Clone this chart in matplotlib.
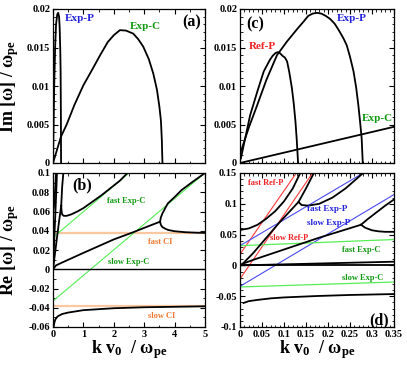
import matplotlib
matplotlib.use('Agg')
import matplotlib.pyplot as plt
from matplotlib.ticker import MultipleLocator, FixedLocator, FixedFormatter

plt.rcParams['font.family'] = ['Liberation Serif', 'DejaVu Serif']
plt.rcParams['font.weight'] = 'bold'
plt.rcParams['mathtext.fontset'] = 'custom'
plt.rcParams['mathtext.rm'] = 'Liberation Serif:bold'
plt.rcParams['mathtext.it'] = 'Liberation Serif:bold'
plt.rcParams['mathtext.bf'] = 'Liberation Serif:bold'

# ---- panel (a): growth rate, wide k range
a_expp_x = [0, 0.02, 0.04, 0.07, 0.1, 0.14, 0.17, 0.2, 0.22, 0.24, 0.25, 0.26, 0.265]
a_expp_y = [0, 0.005, 0.01, 0.015, 0.018, 0.0193, 0.0195, 0.019, 0.0175, 0.0145, 0.012, 0.006, 0]
a_expc_x = [0, 0.1, 0.26, 0.45, 0.7, 1.0, 1.3, 1.55, 1.8, 2.0, 2.2, 2.4, 2.64, 2.8, 2.97,
            3.15, 3.3, 3.42, 3.5, 3.55, 3.58, 3.6]
a_expc_y = [0, 0.0013, 0.0034, 0.005, 0.0075, 0.0101, 0.0122, 0.014, 0.0157, 0.0166, 0.01725,
            0.0172, 0.0168, 0.0161, 0.0151, 0.0135, 0.0116, 0.0095, 0.0073, 0.0055, 0.003, 0]

# ---- panel (b): real frequency, wide k range
b_fastexpc_x = [0, 2.5]
b_fastexpc_y = [0.033, 0.1]
b_slowexpc_x = [0, 5]
b_slowexpc_y = [-0.033, 0.1]
b_ci_x = [0, 5]
b_fastci_y = [0.038, 0.038]
b_slowci_y = [-0.038, -0.038]
b_zero_x = [0, 5]
b_zero_y = [0, 0]
b_upper_x = [0.27, 0.28, 0.3, 0.35, 0.45, 0.6, 0.8, 1.0, 1.2, 1.4, 1.6, 1.8, 2.0, 2.2, 2.45]
b_upper_y = [0.066, 0.061, 0.057, 0.0555, 0.0555, 0.057, 0.06, 0.0635, 0.068, 0.0725, 0.077,
             0.082, 0.087, 0.092, 0.1]
b_cuspup_x = [0.27, 0.3, 0.34]
b_cuspup_y = [0.066, 0.085, 0.1]
b_origin_x = [0, 0.1, 0.2, 0.27]
b_origin_y = [0, 0.025, 0.05, 0.066]
b_steep1_x = [0, 0.04, 0.07, 0.1]
b_steep1_y = [0.058, 0.067, 0.083, 0.1]
b_steep2_x = [0.01, 0.06, 0.1, 0.13]
b_steep2_y = [0.005, 0.045, 0.075, 0.1]
b_slow_x = [0, 0.1, 0.3, 1.0, 2.0, 2.6, 3.0, 3.52]
b_slow_y = [0, 0.004, 0.007, 0.017, 0.031, 0.038, 0.043, 0.0494]
b_slowup_x = [3.52, 3.55, 3.6, 3.7, 3.78, 4.0, 4.23, 4.6, 5.0]
b_slowup_y = [0.0494, 0.054, 0.058, 0.064, 0.0685, 0.075, 0.0823, 0.091, 0.1]
b_slowdn_x = [3.52, 3.55, 3.6, 3.7, 3.79, 4.0, 4.34, 4.7, 5.0]
b_slowdn_y = [0.0494, 0.046, 0.0438, 0.042, 0.0408, 0.0395, 0.0385, 0.038, 0.0378]
b_bottom_x = [0.02, 0.04, 0.08, 0.15, 0.3, 0.5, 1.0, 2.0, 3.0, 4.0, 5.0]
b_bottom_y = [-0.06, -0.056, -0.052, -0.049, -0.0465, -0.045, -0.0425, -0.0405, -0.0395,
              -0.039, -0.0385]

# ---- panel (c): growth rate, small k
c_expp_x = [0.002, 0.02, 0.039, 0.06, 0.084, 0.107, 0.13, 0.145, 0.155, 0.165, 0.175, 0.185,
            0.195, 0.205, 0.215, 0.225, 0.235, 0.2425, 0.25, 0.258, 0.264, 0.269, 0.273,
            0.2765, 0.279]
c_expp_y = [0.0015, 0.0046, 0.0075, 0.0108, 0.014, 0.0158, 0.0174, 0.0184, 0.0191, 0.0194,
            0.0195, 0.0194, 0.0191, 0.0187, 0.0181, 0.0172, 0.0162, 0.0153, 0.0138, 0.0119,
            0.0098, 0.0075, 0.0053, 0.0032, 0]
c_refp_x = [0.002, 0.023, 0.04, 0.054, 0.068, 0.074, 0.08, 0.0856, 0.091, 0.097, 0.102,
            0.107, 0.112, 0.118, 0.122, 0.126, 0.129, 0.132]
c_refp_y = [0.0006, 0.0062, 0.0094, 0.0119, 0.0134, 0.0139, 0.01425, 0.0144, 0.01425,
            0.0139, 0.0137, 0.0132, 0.0118, 0.0097, 0.0078, 0.0054, 0.003, 0]
c_expc_x = [0, 0.35]
c_expc_y = [0, 0.0047]

# ---- panel (d): real frequency, small k
d_zero_x = [0, 0.35]
d_zero_y = [0, 0]
d_flat_x = [0, 0.35]
d_flat_y = [0, 0.006]
d_bottom_x = [0.008, 0.02, 0.04, 0.07, 0.1, 0.175, 0.25, 0.35]
d_bottom_y = [-0.061, -0.058, -0.056, -0.0535, -0.052, -0.0497, -0.048, -0.0465]
d_upleft_x = [0, 0.02, 0.04, 0.06, 0.08, 0.1, 0.12, 0.137]
d_upleft_y = [0.0575, 0.06, 0.066, 0.076, 0.088, 0.104, 0.125, 0.15]
d_mid_x = [0.008, 0.03, 0.06, 0.09, 0.12, 0.133, 0.15, 0.168]
d_mid_y = [0.004, 0.02, 0.045, 0.07, 0.093, 0.103, 0.125, 0.15]
d_mid2_x = [0.133, 0.14, 0.155, 0.18, 0.21, 0.24, 0.28]
d_mid2_y = [0.103, 0.098, 0.097, 0.1, 0.11, 0.125, 0.15]
d_slow_x = [0, 0.03, 0.08, 0.13, 0.18, 0.23, 0.275]
d_slow_y = [0.001, 0.009, 0.021, 0.033, 0.045, 0.056, 0.066]
d_slowup_x = [0.275, 0.29, 0.31, 0.33, 0.35]
d_slowup_y = [0.066, 0.075, 0.086, 0.097, 0.107]
d_slowdn_x = [0.275, 0.285, 0.3, 0.315, 0.33, 0.35]
d_slowdn_y = [0.066, 0.061, 0.057, 0.0553, 0.0545, 0.0545]
d_fastexpc_x = [0, 0.35]
d_fastexpc_y = [0.032, 0.042]
d_slowexpc_x = [0, 0.35]
d_slowexpc_y = [-0.035, -0.027]
d_fastexpp_x = [0, 0.28]
d_fastexpp_y = [0.032, 0.15]
d_slowexpp_x = [0, 0.35]
d_slowexpp_y = [-0.034, 0.115]
d_fastrefp_x = [0, 0.128]
d_fastrefp_y = [0.018, 0.15]
d_slowrefp_x = [0, 0.165]
d_slowrefp_y = [-0.022, 0.15]

# tick labels
im_ticks = [0, 0.005, 0.01, 0.015, 0.02]
im_labels = ['0', '0.005', '0.01', '0.015', '0.02']
b_yticks = [-0.06, -0.04, -0.02, 0, 0.02, 0.04, 0.06, 0.08, 0.1]
b_ylabels = ['-0.06', '-0.04', '-0.02', '0', '0.02', '0.04', '0.06', '0.08', '0.1']
b_xticks = [0, 1, 2, 3, 4, 5]
b_xlabels = ['0', '1', '2', '3', '4', '5']
d_yticks = [-0.1, -0.05, 0, 0.05, 0.1, 0.15]
d_ylabels = ['-0.1', '-0.05', '0', '0.05', '0.1', '0.15']
d_xticks = [0, 0.05, 0.1, 0.15, 0.2, 0.25, 0.3, 0.35]
d_xlabels = ['0', '0.05', '0.1', '0.15', '0.2', '0.25', '0.3', '0.35']

BLUE = '#2222dd'
GREEN = '#119911'
RED = '#ee2222'
ORANGE = '#f07830'
LGREEN = '#55ee55'
LBLUE = '#4a4aee'
LRED = '#ff3a3a'
LORANGE = '#f9c8a0'
LW = 1.3
TFS = 7.5

fig = plt.figure(figsize=(4.07, 3.67), dpi=100)
W, H = 407.0, 367.0
def box(x0, x1, ytop, ybot):
    return [x0 / W, 1 - ybot / H, (x1 - x0) / W, (ybot - ytop) / H]

axa = fig.add_axes(box(53, 205, 9, 163))
axb = fig.add_axes(box(53, 205, 173, 327))
axc = fig.add_axes(box(240, 394, 9, 163))
axd = fig.add_axes(box(240, 394, 173, 327))

for ax in (axa, axb, axc, axd):
    ax.tick_params(which='both', direction='in', top=True, right=True, labelsize=TFS, pad=2)
    ax.tick_params(which='major', length=3.5, width=0.8)
    ax.tick_params(which='minor', length=1.8, width=0.6)
    for s in ax.spines.values():
        s.set_linewidth(0.9)

# (a)
axa.plot(a_expp_x, a_expp_y, 'k-', lw=LW)
axa.plot(a_expc_x, a_expc_y, 'k-', lw=LW)
axa.set_xlim(0, 5)
axa.set_ylim(0, 0.02)
axa.yaxis.set_major_locator(FixedLocator(im_ticks))
axa.yaxis.set_major_formatter(FixedFormatter(im_labels))
axa.yaxis.set_minor_locator(MultipleLocator(0.001))
axa.xaxis.set_major_locator(FixedLocator(b_xticks))
axa.xaxis.set_minor_locator(MultipleLocator(0.5))
axa.set_xticklabels([])
axa.text(0.4, 0.0188, 'Exp-P', color=BLUE, fontsize=8, va='center', ha='left')
axa.text(2.53, 0.0177, 'Exp-C', color=GREEN, fontsize=8, va='center', ha='left')
axa.text(4.88, 0.0182, '(a)', fontsize=11.5, va='center', ha='right')

# (b)
axb.plot(b_ci_x, b_fastci_y, color=LORANGE, lw=1.6)
axb.plot(b_ci_x, b_slowci_y, color=LORANGE, lw=1.6)
axb.plot(b_fastexpc_x, b_fastexpc_y, color=LGREEN, lw=0.8)
axb.plot(b_slowexpc_x, b_slowexpc_y, color=LGREEN, lw=0.8)
axb.plot(b_zero_x, b_zero_y, 'k-', lw=1.0)
for xs, ys in [(b_upper_x, b_upper_y), (b_cuspup_x, b_cuspup_y), (b_origin_x, b_origin_y),
               (b_steep1_x, b_steep1_y), (b_steep2_x, b_steep2_y), (b_slow_x, b_slow_y),
               (b_slowup_x, b_slowup_y), (b_slowdn_x, b_slowdn_y), (b_bottom_x, b_bottom_y)]:
    axb.plot(xs, ys, 'k-', lw=LW)
axb.set_xlim(0, 5)
axb.set_ylim(-0.06, 0.1)
axb.yaxis.set_major_locator(FixedLocator(b_yticks))
axb.yaxis.set_major_formatter(FixedFormatter(b_ylabels))
axb.yaxis.set_minor_locator(MultipleLocator(0.01))
axb.xaxis.set_major_locator(FixedLocator(b_xticks))
axb.xaxis.set_major_formatter(FixedFormatter(b_xlabels))
axb.xaxis.set_minor_locator(MultipleLocator(0.5))
axb.text(0.62, 0.0875, '(b)', fontsize=11.5, va='center', ha='left')
axb.text(1.77, 0.0712, 'fast Exp-C', color=GREEN, fontsize=6, va='center', ha='left')
axb.text(3.13, 0.0286, 'fast CI', color=ORANGE, fontsize=6, va='center', ha='left')
axb.text(1.82, 0.0078, 'slow Exp-C', color=GREEN, fontsize=6, va='center', ha='left')
axb.text(3.13, -0.049, 'slow CI', color=ORANGE, fontsize=6, va='center', ha='left')

# (c)
axc.plot(c_expp_x, c_expp_y, 'k-', lw=LW)
axc.plot(c_refp_x, c_refp_y, 'k-', lw=LW)
axc.plot(c_expc_x, c_expc_y, 'k-', lw=LW)
axc.set_xlim(0, 0.35)
axc.set_ylim(0, 0.02)
axc.yaxis.set_major_locator(FixedLocator(im_ticks))
axc.yaxis.set_major_formatter(FixedFormatter(im_labels))
axc.yaxis.set_minor_locator(MultipleLocator(0.001))
axc.xaxis.set_major_locator(FixedLocator(d_xticks))
axc.xaxis.set_minor_locator(MultipleLocator(0.01))
axc.set_xticklabels([])
axc.text(0.014, 0.018, '(c)', fontsize=11.5, va='center', ha='left')
axc.text(0.019, 0.0151, 'Ref-P', color=RED, fontsize=8, va='center', ha='left')
axc.text(0.22, 0.0188, 'Exp-P', color=BLUE, fontsize=8, va='center', ha='left')
axc.text(0.276, 0.0058, 'Exp-C', color=GREEN, fontsize=8, va='center', ha='left')

# (d)
axd.plot(d_fastrefp_x, d_fastrefp_y, color=LRED, lw=0.8)
axd.plot(d_slowrefp_x, d_slowrefp_y, color=LRED, lw=0.8)
axd.plot(d_fastexpp_x, d_fastexpp_y, color=LBLUE, lw=0.8)
axd.plot(d_slowexpp_x, d_slowexpp_y, color=LBLUE, lw=0.8)
axd.plot(d_fastexpc_x, d_fastexpc_y, color=LGREEN, lw=0.9)
axd.plot(d_slowexpc_x, d_slowexpc_y, color=LGREEN, lw=0.9)
axd.plot(d_zero_x, d_zero_y, 'k-', lw=1.3)
for xs, ys in [(d_flat_x, d_flat_y), (d_bottom_x, d_bottom_y), (d_upleft_x, d_upleft_y),
               (d_mid_x, d_mid_y), (d_mid2_x, d_mid2_y), (d_slow_x, d_slow_y),
               (d_slowup_x, d_slowup_y), (d_slowdn_x, d_slowdn_y)]:
    axd.plot(xs, ys, 'k-', lw=LW)
axd.set_xlim(0, 0.35)
axd.set_ylim(-0.1, 0.15)
axd.yaxis.set_major_locator(FixedLocator(d_yticks))
axd.yaxis.set_major_formatter(FixedFormatter(d_ylabels))
axd.yaxis.set_minor_locator(MultipleLocator(0.01))
axd.xaxis.set_major_locator(FixedLocator(d_xticks))
axd.xaxis.set_major_formatter(FixedFormatter(d_xlabels))
axd.xaxis.set_minor_locator(MultipleLocator(0.01))
axd.text(0.018, 0.133, 'fast Ref-P', color=RED, fontsize=6, va='center', ha='left')
axd.text(0.152, 0.091, 'fast Exp-P', color=BLUE, fontsize=6.5, va='center', ha='left')
axd.text(0.152, 0.069, 'slow Exp-P', color=BLUE, fontsize=6.5, va='center', ha='left')
axd.text(0.068, 0.044, 'slow Ref-P', color=RED, fontsize=6, va='center', ha='left')
axd.text(0.231, 0.025, 'fast Exp-C', color=GREEN, fontsize=6, va='center', ha='left')
axd.text(0.231, -0.021, 'slow Exp-C', color=GREEN, fontsize=6, va='center', ha='left')
axd.text(0.338, -0.089, '(d)', fontsize=11.5, va='center', ha='right')

# axis titles
fig.text(10 / W, 1 - 86 / H, 'Im [ω] / ω$_{\\rm pe}$', rotation=90, fontsize=13,
         ha='center', va='center')
fig.text(10 / W, 1 - 250 / H, 'Re [ω] / ω$_{\\rm pe}$', rotation=90, fontsize=13,
         ha='center', va='center')
fig.text(129 / W, 1 - 350 / H, 'k v$_{\\rm 0}$  / ω$_{\\rm pe}$', fontsize=13,
         ha='center', va='center')
fig.text(317 / W, 1 - 350 / H, 'k v$_{\\rm 0}$  / ω$_{\\rm pe}$', fontsize=13,
         ha='center', va='center')

fig.savefig('out.png', dpi=100)
